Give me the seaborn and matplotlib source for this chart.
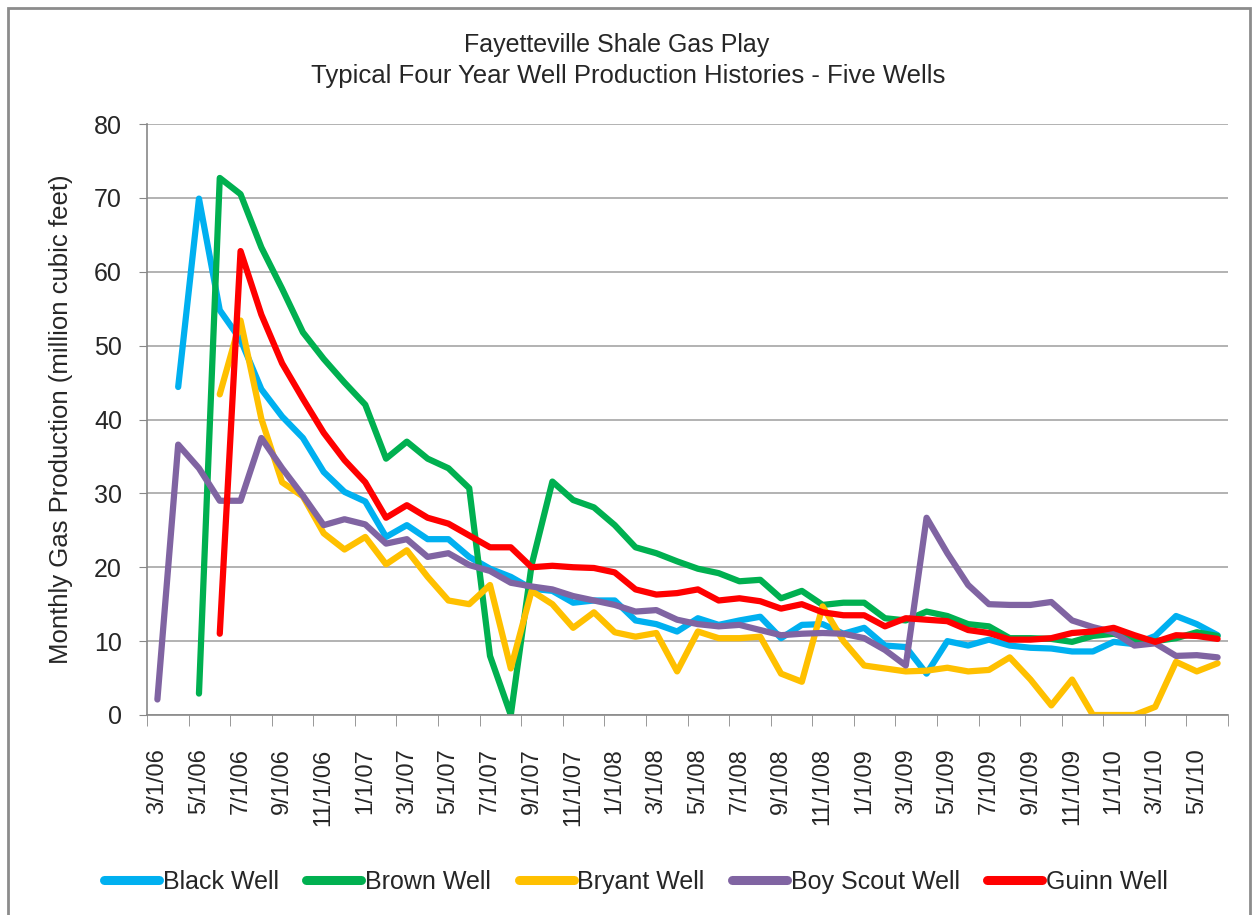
import matplotlib
matplotlib.use("Agg")
import matplotlib.pyplot as plt
from matplotlib.patches import Rectangle
import numpy as np
import pandas as pd
import seaborn as sns

nan = np.nan

# monthly production, million cubic feet, 3/1/06 .. 6/1/10
MONTHS = pd.date_range("2006-03-01", periods=52, freq="MS")

black = [nan, 44.4, 69.9, 54.8, 50.8, 44.1, 40.4, 37.5, 32.9, 30.2,
         28.9, 24.1, 25.7, 23.8, 23.8, 21.4, 19.8, 18.7, 17.1, 16.8,
         15.2, 15.5, 15.5, 12.8, 12.3, 11.3, 13.1, 12.2, 12.8, 13.3,
         10.4, 12.2, 12.3, 11.0, 11.8, 9.4, 9.2, 5.6, 10.0, 9.4,
         10.2, 9.4, 9.1, 9.0, 8.6, 8.6, 9.9, 9.6, 10.7, 13.4,
         12.3, 10.8]
brown = [nan, nan, 2.9, 72.7, 70.5, 63.3, 57.7, 51.8, 48.2, 45.0,
         42.0, 34.7, 37.0, 34.7, 33.4, 30.7, 8.0, 0.0, 20.3, 31.6,
         29.1, 28.1, 25.7, 22.7, 21.9, 20.8, 19.8, 19.2, 18.1, 18.3,
         15.8, 16.8, 14.9, 15.2, 15.2, 13.1, 12.8, 14.0, 13.4, 12.3,
         12.0, 10.4, 10.4, 10.3, 9.9, 10.7, 11.0, 10.2, 10.0, 10.4,
         11.2, 10.7]
bryant = [nan, nan, nan, 43.4, 53.4, 40.1, 31.5, 29.6, 24.6, 22.4,
          24.1, 20.4, 22.3, 18.7, 15.5, 15.0, 17.6, 6.3, 16.8, 15.0,
          11.8, 13.9, 11.2, 10.6, 11.1, 5.9, 11.3, 10.4, 10.4, 10.6,
          5.6, 4.5, 14.7, 10.0, 6.7, 6.3, 5.9, 6.0, 6.4, 5.9,
          6.1, 7.8, 4.8, 1.3, 4.8, 0.0, 0.0, 0.0, 1.1, 7.2,
          5.9, 7.0]
boy_scout = [2.1, 36.6, 33.4, 29.0, 29.0, 37.5, 33.4, 29.7, 25.7, 26.5,
             25.8, 23.2, 23.8, 21.4, 21.9, 20.3, 19.5, 17.9, 17.4, 17.0,
             16.1, 15.5, 14.9, 14.0, 14.2, 12.9, 12.3, 12.0, 12.2, 11.5,
             10.8, 11.0, 11.1, 11.0, 10.4, 8.8, 6.7, 26.7, 21.9, 17.6,
             15.0, 14.9, 14.9, 15.3, 12.8, 11.9, 11.2, 9.4, 9.7, 8.0,
             8.1, 7.8]
guinn = [nan, nan, nan, 11.0, 62.8, 54.2, 47.6, 42.8, 38.2, 34.5,
         31.5, 26.7, 28.4, 26.7, 25.9, 24.3, 22.7, 22.7, 20.0, 20.2,
         20.0, 19.9, 19.3, 17.0, 16.3, 16.5, 17.0, 15.5, 15.8, 15.4,
         14.4, 15.0, 13.9, 13.5, 13.5, 12.0, 13.1, 12.9, 12.7, 11.5,
         11.1, 10.2, 10.2, 10.4, 11.1, 11.3, 11.8, 10.8, 9.9, 10.8,
         10.7, 10.3]

WELLS = ["Black Well", "Brown Well", "Bryant Well", "Boy Scout Well", "Guinn Well"]
COLORS = ["#00B0F0", "#00B050", "#FFC000", "#8064A2", "#FF0000"]

rows = []
for name, vals in zip(WELLS, [black, brown, bryant, boy_scout, guinn]):
    for i, v in enumerate(vals):
        rows.append({"idx": i, "gas": v, "well": name})
df = pd.DataFrame(rows).dropna()

sns.set_style("white")
plt.rcParams["font.family"] = ["Liberation Sans", "DejaVu Sans"]

fig = plt.figure(figsize=(12.54, 9.15), dpi=100)
ax = fig.add_axes([147 / 1254, 1 - 715 / 915, (1228 - 147) / 1254, (715 - 124) / 915])

sns.lineplot(data=df, x="idx", y="gas", hue="well", hue_order=WELLS,
             palette=COLORS, linewidth=4.5, ax=ax, legend=False,
             solid_capstyle="round", solid_joinstyle="round")

ax.set_xlim(-0.5, len(MONTHS) - 0.5)
ax.set_ylim(0, 80)
ax.set_yticks(range(0, 81, 10))
ax.tick_params(axis="y", labelsize=18, length=6, pad=12, color="#888888",
               direction="out", left=True)
ax.yaxis.grid(True, color="#A6A6A6", linewidth=1.2)

labels = [f"{d.month}/1/{d.year % 100:02d}" for d in MONTHS]
ax.set_xticks(range(0, len(MONTHS), 2))
ax.set_xticklabels(labels[::2], rotation=90, fontsize=17)
ax.tick_params(axis="x", which="major", length=0, pad=24)
ax.set_xticks(np.arange(-0.5, len(MONTHS), 2), minor=True)
ax.tick_params(axis="x", which="minor", length=8, color="#888888", bottom=True)

for s in ["top", "right"]:
    ax.spines[s].set_visible(False)
for s in ["left", "bottom"]:
    ax.spines[s].set_color("#888888")
    ax.spines[s].set_linewidth(1.2)

ax.set_xlabel("")
ax.set_ylabel("Monthly Gas Production (million cubic feet)", fontsize=18.5)
ax.yaxis.set_label_coords(-0.068, 0.5)

fig.text(617 / 1254, 1 - 45 / 915, "Fayetteville Shale Gas Play",
         ha="center", va="center", fontsize=18)
fig.text(628 / 1254, 1 - 76 / 915, "Typical Four Year Well Production Histories - Five Wells",
         ha="center", va="center", fontsize=18.5)

handles = [plt.Line2D([], [], color=c, linewidth=6.5, solid_capstyle="round") for c in COLORS]
fig.legend(handles, WELLS, loc="center", bbox_to_anchor=(636 / 1254, 1 - 882 / 915), ncol=5,
           frameon=False, fontsize=18, handlelength=2.2, handletextpad=0.15,
           columnspacing=1.1)

fig.patches.append(Rectangle((8 / 1254, -0.02), 1242 / 1254, 1 - 8 / 915 + 0.02,
                             transform=fig.transFigure, fill=False,
                             edgecolor="#8C8C8C", linewidth=2))

fig.savefig("out.png", dpi=100)
